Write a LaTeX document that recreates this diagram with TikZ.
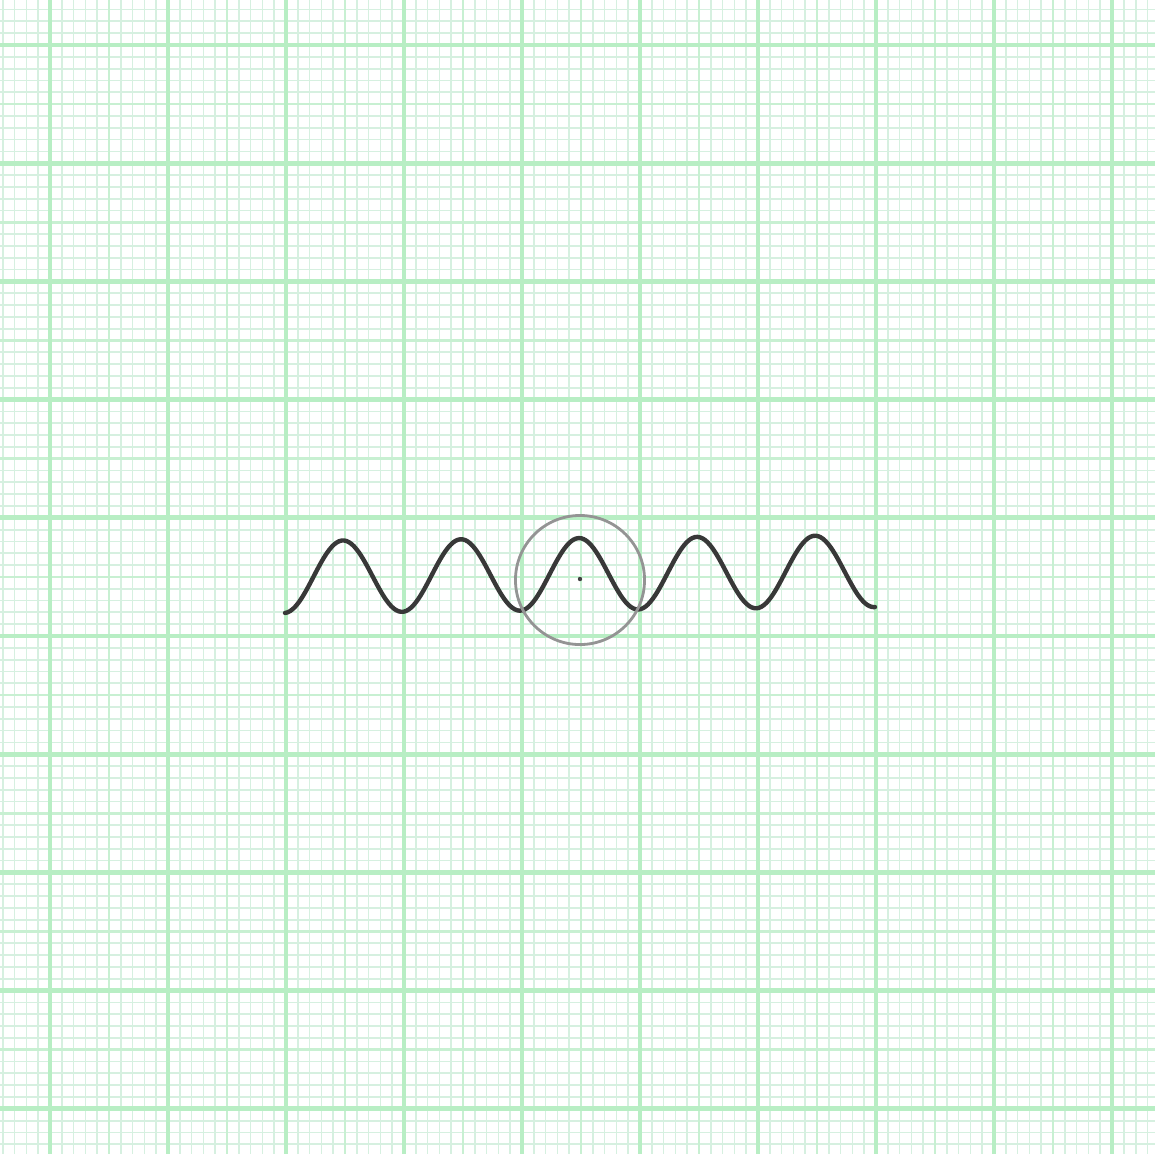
\documentclass[tikz,border=0pt]{standalone}
\usepackage{tikz}
\usetikzlibrary{shapes.geometric}
\definecolor{gridminor}{RGB}{214,240,224}
\definecolor{gridmid}{RGB}{200,240,210}
\definecolor{gridmajor}{RGB}{184,238,196}

\begin{document}
\begin{tikzpicture}[x=0.01cm,y=-0.01cm]
  \tikzstyle{minorline}=[draw=gridminor,line width=0.5pt]
  \tikzstyle{midline}=[draw=gridmid,line width=0.75pt]
  \tikzstyle{majorline}=[draw=gridmajor,line width=1.4pt]
  \tikzstyle{wave}=[draw=black!78,line width=1.25pt,line cap=round,line join=round]
  \tikzstyle{ring}=[circle,draw=black!42,line width=0.8pt,minimum size=1.29cm,inner sep=0pt]
  \useasboundingbox (0,0) rectangle (1155,1154);
  \fill[white] (0,0) rectangle (1155,1154);
  % graph paper
  \foreach \i in {-4,...,93} {
    \draw[minorline] ({50+11.8*\i},0) -- ({50+11.8*\i},1154);
  }
  \foreach \i in {-3,...,93} {
    \draw[minorline] (0,{45+11.82*\i}) -- (1155,{45+11.82*\i});
  }
  \foreach \i in {0,...,18} {
    \draw[midline] ({50+59*\i},0) -- ({50+59*\i},1154);
    \draw[midline] (0,{45+59.1*\i}) -- (1155,{45+59.1*\i});
  }
  \foreach \i in {0,...,9} {
    \draw[majorline] ({50+118*\i},0) -- ({50+118*\i},1154);
    \draw[majorline] (0,{45+118.2*\i}) -- (1155,{45+118.2*\i});
  }
  % wave and circle
  \draw[wave] plot[domain=285:875,samples=240,smooth]
    (\x,{577-0.01*(\x-285)-36*cos(3.0508*(\x-343))});
  \node[ring] (zone) at (580,580) {};
  \fill[black!75] (zone.center) ++(0,-1) circle (2.2);
\end{tikzpicture}
\end{document}
